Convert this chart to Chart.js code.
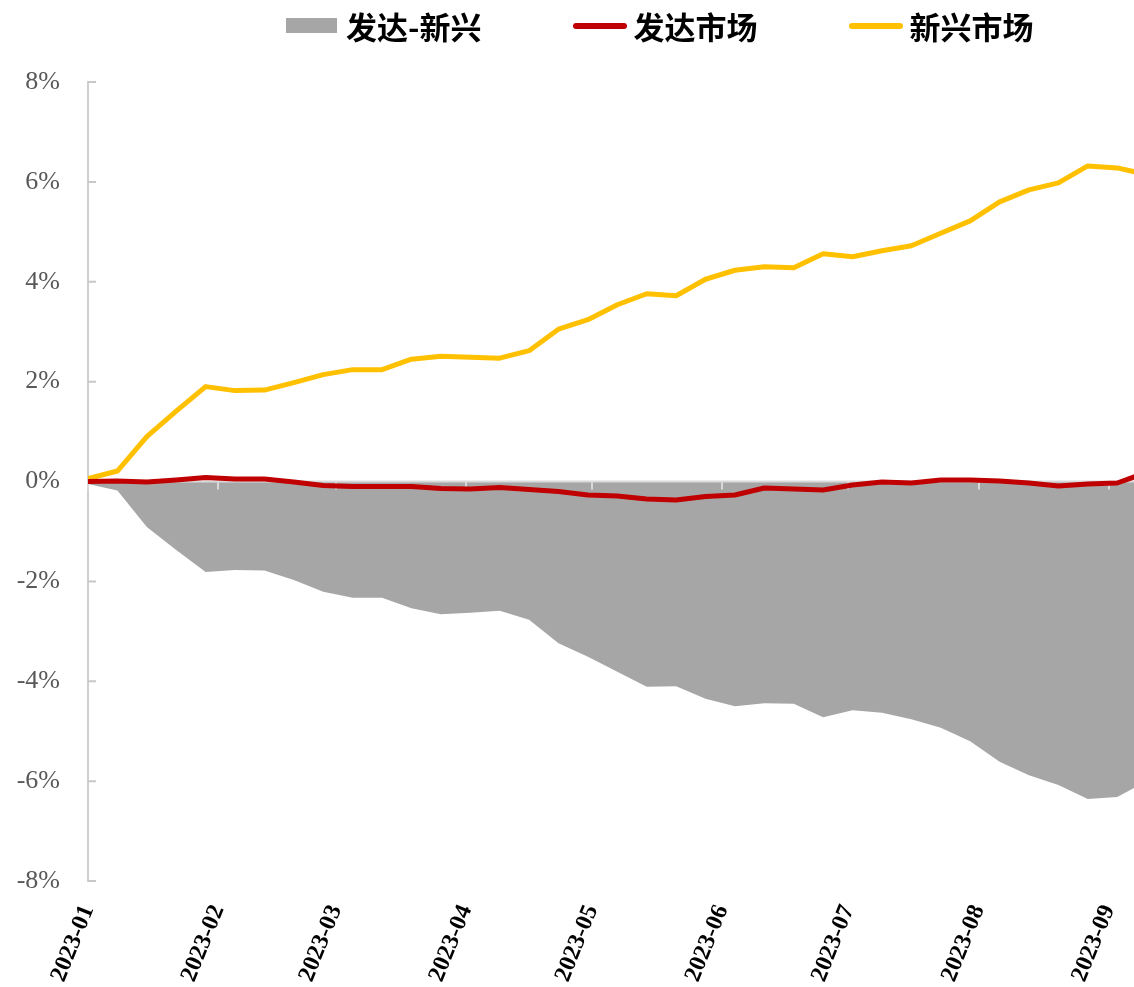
<!DOCTYPE html>
<html>
<head>
<meta charset="utf-8">
<script src="https://cdn.jsdelivr.net/npm/chart.js@4.4.1/dist/chart.umd.min.js"></script>
<style>
    html, body { margin: 0; padding: 0; background: #fff; }
    #wrap { position: relative; width: 1134px; height: 987px; }
    #legend {
        position: absolute; left: 286px; top: 0; height: 51px;
        display: flex; align-items: center;
        font: bold 31px "Noto Sans CJK SC"; color: #000;
    }
    .item { display: flex; align-items: center; margin-right: 92px; }
    .box { width: 51px; height: 15px; margin-right: 9px; }
    .line { width: 54px; height: 6px; border-radius: 3px; margin-right: 6px; }
</style>
</head>
<body>
<div id="wrap">
    <canvas id="chart"></canvas>
    <div id="legend"></div>
</div>
<script>
// 週次の日付（金曜日）
const dates = [
    '2023-01-06', '2023-01-13', '2023-01-20', '2023-01-27', '2023-02-03', '2023-02-10',
    '2023-02-17', '2023-02-24', '2023-03-03', '2023-03-10', '2023-03-17', '2023-03-24',
    '2023-03-31', '2023-04-07', '2023-04-14', '2023-04-21', '2023-04-28', '2023-05-05',
    '2023-05-12', '2023-05-19', '2023-05-26', '2023-06-02', '2023-06-09', '2023-06-16',
    '2023-06-23', '2023-06-30', '2023-07-07', '2023-07-14', '2023-07-21', '2023-07-28',
    '2023-08-04', '2023-08-11', '2023-08-18', '2023-08-25', '2023-09-01', '2023-09-08',
    '2023-09-15'
];
const axisEnd = '2023-09-12';
const monthLabels = ['2023-01', '2023-02', '2023-03', '2023-04', '2023-05', '2023-06', '2023-07', '2023-08', '2023-09'];
const seriesNames = ['发达-新兴', '发达市场', '新兴市场'];
const seriesColors = ['#A6A6A6', '#C00000', '#FFC000'];

// 値（%）
const spreadValues = [
    -0.05, -0.18, -0.91, -1.37, -1.81, -1.77, -1.78, -1.97, -2.21, -2.33, -2.33, -2.54,
    -2.66, -2.63, -2.59, -2.77, -3.24, -3.51, -3.81, -4.11, -4.10, -4.35, -4.50, -4.44,
    -4.45, -4.72, -4.58, -4.63, -4.76, -4.93, -5.20, -5.61, -5.88, -6.08, -6.36, -6.32,
    -6.00
];
const developedValues = [
    0.00, 0.01, -0.01, 0.03, 0.08, 0.05, 0.05, -0.01, -0.08, -0.10, -0.10, -0.10,
    -0.14, -0.15, -0.12, -0.16, -0.20, -0.27, -0.29, -0.35, -0.37, -0.30, -0.27, -0.13,
    -0.15, -0.17, -0.07, -0.01, -0.03, 0.03, 0.03, 0.01, -0.03, -0.09, -0.05, -0.03,
    0.18
];
const emergingValues = [
    0.06, 0.21, 0.90, 1.41, 1.90, 1.82, 1.83, 1.98, 2.14, 2.24, 2.24, 2.45,
    2.51, 2.49, 2.47, 2.62, 3.05, 3.24, 3.54, 3.76, 3.72, 4.05, 4.23, 4.30,
    4.28, 4.56, 4.50, 4.62, 4.72, 4.97, 5.22, 5.60, 5.84, 5.98, 6.32, 6.28,
    6.15
];

// 日付 → 経過日数
const toDay = d => (Date.parse(d) - Date.parse(dates[0])) / 864e5;
const points = values => dates.map((d, i) => ({ x: toDay(d), y: values[i] }));

// 軸線と目盛り（面グラフの上、折れ線の下に描く）
const axisDecor = {
    id: 'axisDecor',
    afterDatasetDraw(chart, args) {
        if (args.index !== 0) return;
        const { ctx, chartArea, scales: { x, y } } = chart;
        const y0 = y.getPixelForValue(0);
        ctx.save();
        ctx.strokeStyle = '#d9d9d9';
        ctx.lineWidth = 2;
        ctx.beginPath();
        ctx.moveTo(chartArea.left, y0);
        ctx.lineTo(chartArea.right, y0);
        x.ticks.forEach(t => {
            const px = Math.round(x.getPixelForValue(t.value));
            ctx.moveTo(px, y0);
            ctx.lineTo(px, y0 + 8);
        });
        ctx.stroke();
        ctx.strokeStyle = '#c8c8c8';
        ctx.beginPath();
        y.ticks.forEach(t => {
            const py = y.getPixelForValue(t.value);
            ctx.moveTo(chartArea.left, py);
            ctx.lineTo(chartArea.left + 8, py);
        });
        ctx.stroke();
        ctx.restore();
    }
};

const lineStyle = {
    fill: false,
    borderWidth: 5,
    pointRadius: 0,
    tension: 0,
    borderJoinStyle: 'round',
    borderCapStyle: 'round'
};

const chart = new Chart(document.getElementById('chart'), {
    type: 'line',
    data: {
        datasets: [
            {
                label: seriesNames[0],
                data: points(spreadValues),
                fill: 'origin',
                backgroundColor: seriesColors[0],
                borderWidth: 0,
                pointRadius: 0,
                tension: 0,
                order: 3
            },
            { ...lineStyle, label: seriesNames[1], data: points(developedValues), borderColor: seriesColors[1], order: 1 },
            { ...lineStyle, label: seriesNames[2], data: points(emergingValues), borderColor: seriesColors[2], order: 2 }
        ]
    },
    options: {
        responsive: true,
        maintainAspectRatio: false,
        animation: false,
        layout: { padding: { top: 82, right: 0, bottom: 0, left: 0 } },
        plugins: {
            legend: { display: false },
            tooltip: { enabled: false }
        },
        scales: {
            x: {
                type: 'linear',
                min: 0,
                max: toDay(axisEnd),
                border: { display: false },
                grid: { display: false, drawTicks: false },
                afterBuildTicks: scale => {
                    scale.ticks = monthLabels.map(m => ({ value: toDay(m + '-06') }));
                },
                afterFit: scale => {
                    // 右端まで描画領域を広げる
                    scale.height = 106;
                    scale.paddingLeft = 0;
                    scale.paddingRight = 0;
                },
                ticks: {
                    autoSkip: false,
                    minRotation: 68,
                    maxRotation: 68,
                    padding: 20,
                    color: '#000',
                    font: { family: 'Liberation Serif', size: 24, weight: 'bold' },
                    callback: (value, index) => monthLabels[index]
                }
            },
            y: {
                min: -8,
                max: 8,
                border: { display: true, color: '#cfcfcf', width: 2 },
                grid: { display: false, drawTicks: false },
                afterFit: scale => { scale.width = 88; },
                ticks: {
                    stepSize: 2,
                    padding: 28,
                    color: '#595959',
                    font: { family: 'Liberation Serif', size: 26 },
                    callback: v => v + '%'
                }
            }
        }
    },
    plugins: [axisDecor]
});

// 凡例（HTML）
const legend = document.getElementById('legend');
chart.data.datasets.forEach(ds => {
    const item = document.createElement('div');
    item.className = 'item';
    const swatch = document.createElement('span');
    if (ds.fill === 'origin') {
        swatch.className = 'box';
        swatch.style.background = ds.backgroundColor;
    } else {
        swatch.className = 'line';
        swatch.style.background = ds.borderColor;
    }
    const text = document.createElement('span');
    text.textContent = ds.label;
    item.appendChild(swatch);
    item.appendChild(text);
    legend.appendChild(item);
});
</script>
</body>
</html>
